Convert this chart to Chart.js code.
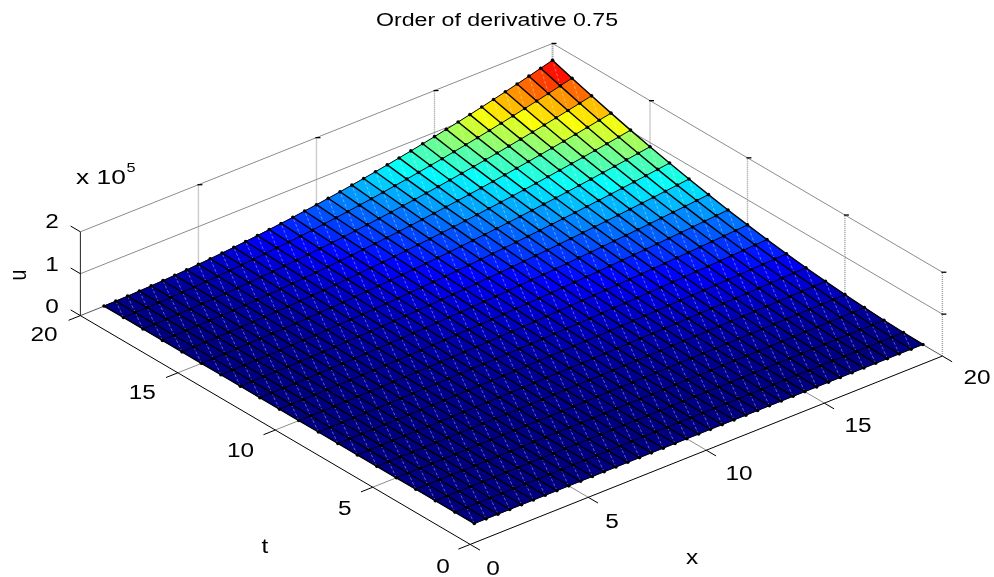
<!DOCTYPE html>
<html lang="en">
<head>
    <meta charset="UTF-8">
    <title>Order of derivative 0.75</title>
    <script src="https://cdn.jsdelivr.net/npm/chart.js"></script>
    <style>
        html, body { margin: 0; padding: 0; background: #fff; }
        canvas { display: block; }
    </style>
</head>
<body>
    <canvas id="surface" width="994" height="577"></canvas>

    <script>
        // grid of the surface
        const xValues = [1,1.5,2,2.5,3,3.5,4,4.5,5,5.5,6,6.5,7,7.5,8,8.5,9,9.5,10,10.5,11,11.5,12,12.5,13,13.5,14,14.5,15,15.5,16,16.5,17,17.5,18,18.5,19,19.5,20];
        const tValues = [1,2,3,4,5,6,7,8,9,10,11,12,13,14,15,16,17,18,19,20];

        // u, in hundreds. one row per t, one column per x
        const uHundreds = [
            [0,0,0,0,0,0,0,0,0,0,0,0,0,1,1,1,1,1,1,1,1,1,1,2,2,2,2,2,2,2,3,3,3,3,3,3,4,4,4],
            [0,0,0,0,0,0,1,1,1,1,1,2,2,2,3,3,3,4,4,4,5,5,6,6,7,7,8,8,9,10,10,11,12,12,13,14,14,15,16],
            [0,0,0,1,1,1,1,2,2,3,3,4,4,5,6,7,7,8,9,10,11,12,13,14,15,16,18,19,20,22,23,25,26,28,29,31,32,34,36],
            [0,0,1,1,1,2,3,3,4,5,6,7,8,9,10,12,13,14,16,18,19,21,23,25,27,29,31,34,36,38,41,44,46,49,52,55,58,61,64],
            [0,1,1,2,2,3,4,5,6,8,9,11,12,14,16,18,20,23,25,28,30,33,36,39,42,46,49,53,56,60,64,68,72,77,81,86,90,95,100],
            [0,1,1,2,3,4,6,7,9,11,13,15,18,20,23,26,29,32,36,40,44,48,52,56,61,66,71,76,81,86,92,98,104,110,117,123,130,137,144],
            [0,1,2,3,4,6,8,10,12,15,18,21,24,28,31,35,40,44,49,54,59,65,71,77,83,89,96,103,110,118,125,133,142,150,159,168,177,186,196],
            [1,1,3,4,6,8,10,13,16,19,23,27,31,36,41,46,52,58,64,71,77,85,92,100,108,117,125,135,144,154,164,174,185,196,207,219,231,243,256],
            [1,2,3,5,7,10,13,16,20,25,29,34,40,46,52,59,66,73,81,89,98,107,117,127,137,148,159,170,182,195,207,221,234,248,262,277,292,308,324],
            [1,2,4,6,9,12,16,20,25,30,36,42,49,56,64,72,81,90,100,110,121,132,144,156,169,182,196,210,225,240,256,272,289,306,324,342,361,380,400],
            [1,3,5,8,11,15,19,25,30,37,44,51,59,68,77,87,98,109,121,133,146,160,174,189,204,221,237,254,272,291,310,329,350,371,392,414,437,460,484],
            [1,3,6,9,13,18,23,29,36,44,52,61,71,81,92,104,117,130,144,159,174,190,207,225,243,262,282,303,324,346,369,392,416,441,467,493,520,548,576],
            [2,4,7,11,15,21,27,34,42,51,61,71,83,95,108,122,137,153,169,186,204,224,243,264,286,308,331,355,380,406,433,460,488,518,548,578,610,643,676],
            [2,4,8,12,18,24,31,40,49,59,71,83,96,110,125,142,159,177,196,216,237,259,282,306,331,357,384,412,441,471,502,534,566,600,635,671,708,745,784],
            [2,5,9,14,20,28,36,46,56,68,81,95,110,127,144,163,182,203,225,248,272,298,324,352,380,410,441,473,506,541,576,613,650,689,729,770,812,856,900],
            [3,6,10,16,23,31,41,52,64,77,92,108,125,144,164,185,207,231,256,282,310,339,369,400,433,467,502,538,576,615,655,697,740,784,829,876,924,973,1024],
            [3,7,12,18,26,35,46,59,72,87,104,122,142,163,185,209,234,261,289,319,350,382,416,452,488,527,566,608,650,694,740,787,835,885,936,989,1043,1099,1156],
            [3,7,13,20,29,40,52,66,81,98,117,137,159,182,207,234,262,292,324,357,392,428,467,506,548,590,635,681,729,778,829,882,936,992,1050,1109,1170,1232,1296],
            [4,8,14,23,32,44,58,73,90,109,130,153,177,203,231,261,292,326,361,398,437,477,520,564,610,658,708,759,812,867,924,983,1043,1106,1170,1236,1303,1373,1444],
            [4,9,16,25,36,49,64,81,100,121,144,169,196,225,256,289,324,361,400,441,484,529,576,625,676,729,784,841,900,961,1024,1089,1156,1225,1296,1369,1444,1521,1600]
        ];

        // axis ticks and labels
        const xTicks = [0,5,10,15,20];
        const tTicks = [0,5,10,15,20];
        const uTicks = [0,100000,200000];
        const uTickLabels = ['0','1','2'];
        const titleText = 'Order of derivative 0.75';

        // oblique view of the box, in canvas pixels per data unit
        const view = { ox: 470, oy: 548, xdx: 23.8, xdy: -9.55, tdx: -19.65, tdy: -11.6, upx: 42.5 / 100000 };

        function project(x, t, u) {
            return {
                x: view.ox + x * view.xdx + t * view.tdx,
                y: view.oy + x * view.xdy + t * view.tdy - u * view.upx
            };
        }

        function uAt(i, j) { return uHundreds[j][i] * 100; }
        function node(i, j) { return project(xValues[i], tValues[j], uAt(i, j)); }

        // jet colormap, u range is taken from the table
        const uMax = Math.max(...uHundreds.flat()) * 100;
        function jet(v) {
            const c = (d) => Math.round(255 * Math.min(1, Math.max(0, 1.5 - Math.abs(4 * v - d))));
            return `rgb(${c(3)},${c(2)},${c(1)})`;
        }

        const datasets = [];

        function addLine(points, color, width, dash) {
            datasets.push({
                data: points, showLine: true, fill: false, pointRadius: 0,
                borderColor: color, borderWidth: width, borderDash: dash || [], spanGaps: false
            });
        }

        // back walls
        const grey = '#8c8c8c';
        uTicks.slice(1).forEach(u => {
            addLine([project(0, 20, u), project(20, 20, u), project(20, 0, u)], grey, 1);
        });
        xTicks.slice(1, 4).forEach(x => {
            addLine([project(x, 20, 0), project(x, 20, 200000)], '#999', 1.4, [1, 1]);
        });
        tTicks.slice(1, 4).forEach(t => {
            addLine([project(20, t, 0), project(20, t, 200000)], '#999', 1.4, [1, 1]);
        });
        addLine([project(20, 20, 0), project(20, 20, 200000)], '#888', 2, [1, 1]);
        addLine([project(20, 0, 0), project(20, 0, 200000)], '#999', 1.4, [1, 1]);

        // floor grid
        addLine([project(0, 20, 0), project(20, 20, 0), project(20, 0, 0)], '#555', 1);
        xTicks.slice(1, 4).forEach(x => addLine([project(x, 0, 0), project(x, 20, 0)], grey, 1));
        tTicks.slice(1, 4).forEach(t => addLine([project(0, t, 0), project(20, t, 0)], grey, 1));

        // small ticks on top of the walls
        const topTicks = [];
        xTicks.slice(1).forEach(x => topTicks.push(project(x, 20, 200000)));
        tTicks.slice(1, 4).forEach(t => topTicks.push(project(20, t, 200000)));
        topTicks.push(project(20, 0, 200000), project(20, 0, 100000));
        topTicks.forEach(p => addLine([{ x: p.x - 1, y: p.y }, { x: p.x + 4, y: p.y }], '#000', 1.3));

        // faces, back to front
        for (let j = tValues.length - 2; j >= 0; j--) {
            for (let i = xValues.length - 2; i >= 0; i--) {
                const color = jet(uAt(i, j) / uMax);
                datasets.push({
                    data: [node(i, j), node(i + 1, j), node(i + 1, j + 1), node(i, j + 1), node(i, j)],
                    showLine: true, pointRadius: 0, fill: 'shape',
                    backgroundColor: color, borderColor: color, borderWidth: 0.6
                });
            }
        }

        // pale seam across each face
        const seams = [];
        for (let j = 0; j < tValues.length - 1; j++) {
            for (let i = 0; i < xValues.length - 1; i++) {
                seams.push(node(i, j), node(i + 1, j + 1), { x: NaN, y: NaN });
            }
        }
        addLine(seams, 'rgba(255,255,255,0.42)', 0.9, [3, 2]);

        // mesh
        tValues.forEach((t, j) => {
            addLine(xValues.map((x, i) => node(i, j)), '#000', 1);
        });
        xValues.forEach((x, i) => {
            addLine(tValues.map((t, j) => node(i, j)), '#000', 1.4);
        });
        const nodes = [];
        tValues.forEach((t, j) => xValues.forEach((x, i) => nodes.push(node(i, j))));
        datasets.push({ data: nodes, showLine: false, pointRadius: 1.8, pointBackgroundColor: '#000', pointBorderWidth: 0 });

        // front axes
        addLine([project(0, 20, 0), project(0, 0, 0), project(20, 0, 0)], '#000', 1);
        addLine([project(0, 20, 0), project(0, 20, 200000)], '#222', 1);
        xTicks.forEach(x => addLine([project(x, 0, 0), project(x, -0.5, 0)], '#000', 1));
        tTicks.forEach(t => addLine([project(0, t, 0), project(-0.5, t, 0)], '#000', 1));
        uTicks.forEach(u => addLine([project(0, 20, u), project(0, 20.5, u)], '#000', 1));

        // chart.js paints the first dataset on top
        datasets.reverse();

        // text is wider than tall in the picture, so it is stretched on the canvas
        function putText(ctx, str, px, py, size, stretchX, angle, stretchY) {
            ctx.save();
            ctx.translate(px, py);
            if (angle) ctx.rotate(angle);
            ctx.scale(stretchX, stretchY || 1);
            ctx.font = `${size}px "Liberation Sans"`;
            ctx.fillStyle = '#000';
            ctx.textAlign = 'center';
            ctx.textBaseline = 'middle';
            ctx.fillText(str, 0, 0);
            ctx.restore();
        }

        const axisText = {
            id: 'axisText',
            afterDraw(chart) {
                const ctx = chart.ctx;
                const sx = 1.25;
                putText(ctx, titleText, 497, 21, 18.7, 1.24);
                xTicks.forEach(x => {
                    const p = project(x, 0, 0);
                    putText(ctx, String(x), p.x + (x < 10 ? 23 : 31), p.y + 22, 19.5, sx);
                });
                tTicks.forEach(t => {
                    const p = project(0, t, 0);
                    putText(ctx, String(t), p.x + (t < 10 ? -27 : -33), p.y + 20, 19.5, sx);
                });
                uTicks.forEach((u, k) => {
                    const p = project(0, 20, u);
                    putText(ctx, uTickLabels[k], p.x - 25, p.y - 8, 19.5, sx);
                });
                putText(ctx, 'x 10', 101, 179, 19.5, 1.35);
                putText(ctx, '5', 131, 168, 13, sx);
                putText(ctx, 'u', 19, 275, 19.5, 1, -Math.PI / 2, 1.25);
                putText(ctx, 't', 265, 548, 19.5, sx);
                putText(ctx, 'x', 692, 559, 19.5, sx);
            }
        };

        new Chart(document.getElementById('surface'), {
            type: 'scatter',
            data: { datasets },
            options: {
                responsive: false,
                animation: false,
                layout: { padding: 0 },
                plugins: { legend: { display: false }, tooltip: { enabled: false }, title: { display: false } },
                scales: {
                    x: { type: 'linear', display: false, min: 0, max: 994 },
                    y: { type: 'linear', display: false, min: 0, max: 577, reverse: true }
                }
            },
            plugins: [axisText]
        });
    </script>
</body>
</html>
